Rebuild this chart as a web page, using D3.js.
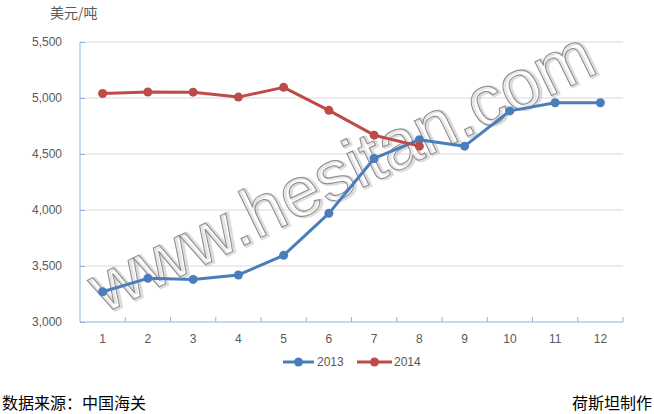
<!DOCTYPE html>
<html><head><meta charset="utf-8">
<script src="https://cdn.jsdelivr.net/npm/d3@7/dist/d3.min.js"></script>
<style>body{margin:0;background:#fff;}svg{display:block;}</style>
</head><body>
<svg id="c" width="654" height="414"></svg>
<script>
const months = ["1","2","3","4","5","6","7","8","9","10","11","12"];
const s2013 = [3270,3390,3380,3420,3595,3970,4460,4628,4570,4885,4958,4958];
const s2014 = [5040,5054,5052,5008,5095,4890,4668,4570];
const yTicks = [3000,3500,4000,4500,5000,5500];
const seriesNames = ["2013","2014"];
const colors = ["#4A7EBB","#BE4B48"];

const svg = d3.select("#c");
const L=80,R=623,T=42,B=322;
const x = d3.scaleBand().domain(months).range([L,R]);
const y = d3.scaleLinear().domain([3000,5500]).range([B,T]);
const font = "'Liberation Sans', Arial, sans-serif";
const cjk = "'Noto Sans CJK SC', sans-serif";

// gridlines
svg.append("g").selectAll("line").data(yTicks.slice(1)).join("line")
  .attr("x1",L).attr("x2",R).attr("y1",d=>y(d)).attr("y2",d=>y(d))
  .attr("stroke","#D9D9D9").attr("stroke-width",1);

// watermark
const wm = svg.append("g").attr("transform","translate(352,193) rotate(-26)");
wm.append("text").text("www.hesitan.com").attr("text-anchor","middle")
  .attr("font-family",font).attr("font-size",71).attr("fill","none")
  .attr("stroke","#bbb").attr("stroke-width",3).attr("opacity",0.5)
  .attr("transform","translate(1.5,1.5)");
wm.append("text").text("www.hesitan.com").attr("text-anchor","middle")
  .attr("font-family",font).attr("font-size",71).attr("fill","rgba(255,255,255,0.3)")
  .attr("stroke","#8a8a8a").attr("stroke-width",1);

// axes
const axisColor="#8EB4E3";
const yAxis = svg.append("g").attr("transform",`translate(${L},0)`)
  .call(d3.axisLeft(y).tickValues(yTicks).tickSize(-5).tickFormat(d3.format(",")));
yAxis.select(".domain").attr("stroke",axisColor).attr("d",`M0,${T}V${B}`);
yAxis.selectAll(".tick line").attr("stroke",axisColor);
yAxis.selectAll("text").attr("x",-18).attr("fill","#595959").attr("font-size",12).attr("font-family",font);

const xAxis = svg.append("g").attr("transform",`translate(0,${B})`)
  .call(d3.axisBottom(x).tickSize(0).tickPadding(12));
xAxis.select(".domain").attr("stroke",axisColor).attr("d",`M${L},0H${R}`);
xAxis.selectAll("text").attr("fill","#595959").attr("font-size",12).attr("font-family",font);
const bounds = months.map((m,i)=>x(m)).concat([R]).slice(1);
xAxis.append("g").selectAll("line").data(bounds).join("line")
  .attr("x1",d=>d).attr("x2",d=>d).attr("y1",0).attr("y2",-5).attr("stroke",axisColor);

// lines
const line = d3.line().x((d,i)=>x(months[i])+x.bandwidth()/2).y(d=>y(d));
[s2013,s2014].forEach((s,k)=>{
  svg.append("path").datum(s).attr("d",line).attr("fill","none")
    .attr("stroke",colors[k]).attr("stroke-width",3).attr("stroke-linejoin","round");
  svg.append("g").selectAll("circle").data(s).join("circle")
    .attr("cx",(d,i)=>x(months[i])+x.bandwidth()/2).attr("cy",d=>y(d)).attr("r",4.5)
    .attr("fill",colors[k]);
});

// legend
const leg = [{x0:283,x1:314,tx:317},{x0:357,x1:392,tx:394}];
leg.forEach((l,k)=>{
  svg.append("line").attr("x1",l.x0).attr("x2",l.x1).attr("y1",362).attr("y2",362)
    .attr("stroke",colors[k]).attr("stroke-width",3);
  svg.append("circle").attr("cx",(l.x0+l.x1)/2).attr("cy",362).attr("r",4.5).attr("fill",colors[k]);
  svg.append("text").attr("x",l.tx).attr("y",366).text(seriesNames[k])
    .attr("fill","#595959").attr("font-size",12).attr("font-family",font);
});

// titles
svg.append("text").attr("x",50).attr("y",18).text("美元/吨")
  .attr("fill","#595959").attr("font-size",14).attr("font-family",cjk);
svg.append("text").attr("x",2).attr("y",409).text("数据来源：中国海关")
  .attr("fill","#000").attr("font-size",16).attr("font-family",cjk);
svg.append("text").attr("x",652).attr("y",409).attr("text-anchor","end").text("荷斯坦制作")
  .attr("fill","#000").attr("font-size",16).attr("font-family",cjk);
</script>
</body></html>
